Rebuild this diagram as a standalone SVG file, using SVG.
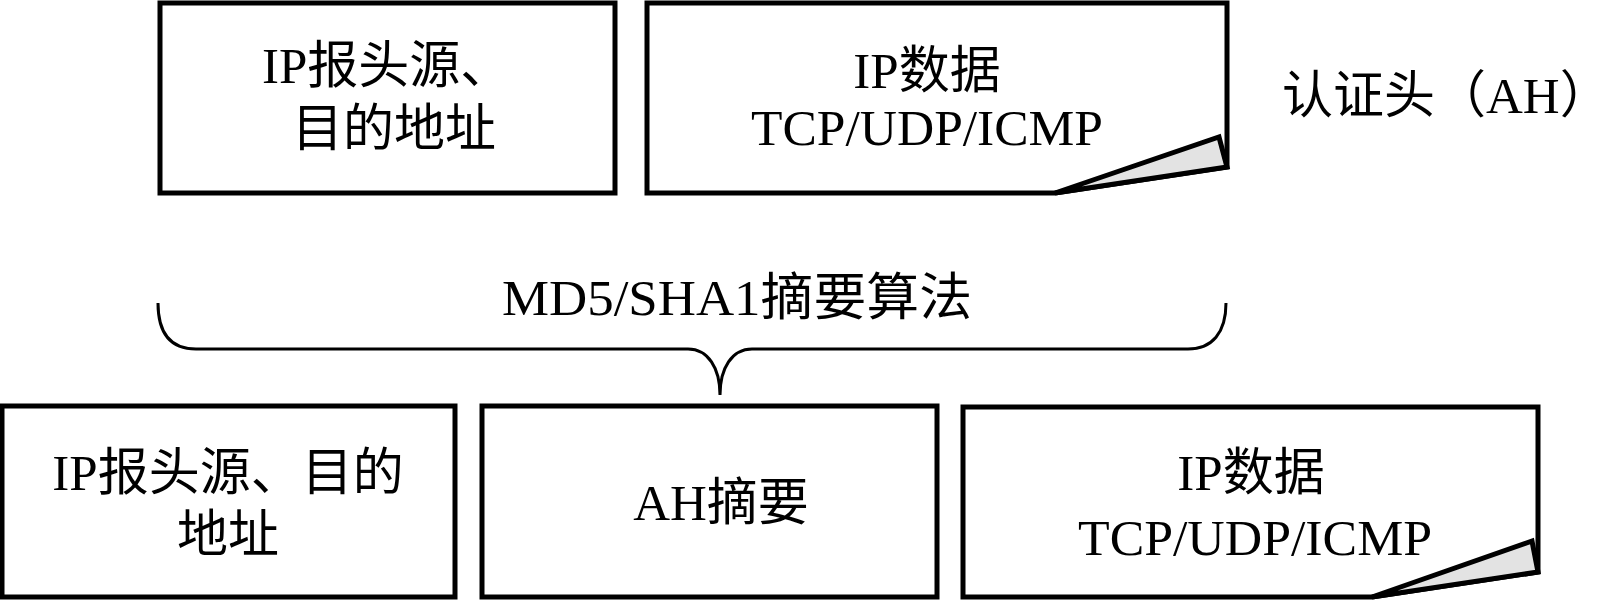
<svg xmlns="http://www.w3.org/2000/svg" width="1622" height="600" viewBox="0 0 1622 600">
<style>
.box{fill:#fff;stroke:#000;stroke-width:5;stroke-linejoin:miter}
.fold{fill:#e3e3e3;stroke:#000;stroke-width:5;stroke-linejoin:miter}
.brace{fill:none;stroke:#000;stroke-width:3}
text{font-family:"Liberation Serif","Noto Sans CJK SC",serif;font-size:51px;fill:#000}
.m{text-anchor:middle}
</style>
<rect width="1622" height="600" fill="#fff"/>
<g id="top-header">
<rect class="box" x="160" y="3" width="455" height="190"/>
<text x="262" y="83">IP报头源、</text>
<text x="292" y="146">目的地址</text>
</g>
<g id="top-data">
<path class="box" d="M647,3 L1227,3 L1227,167 L1055,193 L647,193 Z"/>
<path class="fold" d="M1055,193 L1219,137 L1227,167 Z"/>
<text class="m" x="927" y="88">IP数据</text>
<text class="m" x="927" y="145" textLength="352" lengthAdjust="spacingAndGlyphs">TCP/UDP/ICMP</text>
</g>
<g id="ah-label">
<text x="1282" y="113">认证头（AH）</text>
</g>
<g id="connectors">
<path class="brace" d="M158,303 C158,333 170,349 196,349 L688,349 C708,349 720,368 720,395 C720,368 732,349 752,349 L1188,349 C1212,349 1226,333 1226,303"/>
<text x="502" y="315" textLength="470" lengthAdjust="spacingAndGlyphs">MD5/SHA1摘要算法</text>
</g>
<g id="bottom-header">
<rect class="box" x="2" y="406" width="453" height="191"/>
<text class="m" x="228" y="490">IP报头源、目的</text>
<text class="m" x="228" y="552">地址</text>
</g>
<g id="bottom-ah">
<rect class="box" x="482" y="406" width="455" height="191"/>
<text class="m" x="721" y="520">AH摘要</text>
</g>
<g id="bottom-data">
<path class="box" d="M963,407 L1538,407 L1538,572 L1372,597 L963,597 Z"/>
<path class="fold" d="M1372,597 L1532,541 L1538,572 Z"/>
<text class="m" x="1251" y="490">IP数据</text>
<text class="m" x="1255" y="555" textLength="354" lengthAdjust="spacingAndGlyphs">TCP/UDP/ICMP</text>
</g>
</svg>
